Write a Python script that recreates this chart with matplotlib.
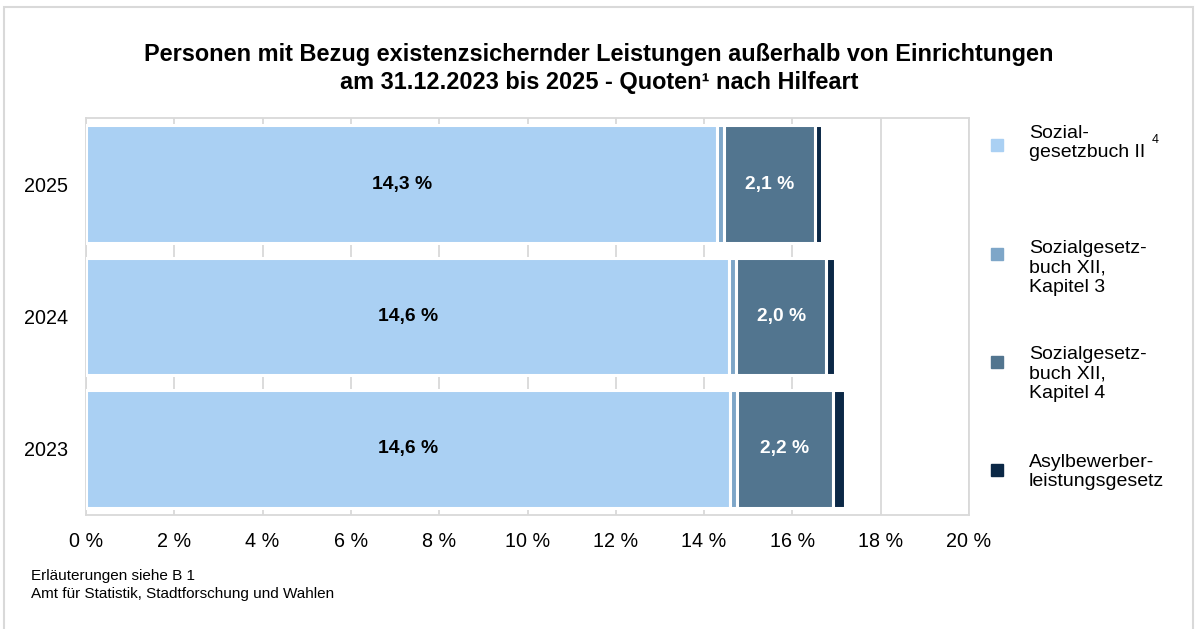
import numpy as np
import matplotlib.pyplot as plt
from matplotlib.lines import Line2D
from matplotlib.patches import Rectangle

plt.rcParams['font.family'] = ['Liberation Sans', 'DejaVu Sans']

# Daten (Quoten in %)
jahre = ['2023', '2024', '2025']
sgb2 = [14.58, 14.57, 14.30]
sgb12_k3 = [0.16, 0.16, 0.15]
sgb12_k4 = [2.18, 2.04, 2.06]
asylblg = [0.27, 0.19, 0.16]
label_sgb2 = ['14,6 %', '14,6 %', '14,3 %']
label_k4 = ['2,2 %', '2,0 %', '2,1 %']

farben = ['#AAD0F3', '#7EA6C8', '#52758F', '#0B2846']
legende = ['Sozial-\ngesetzbuch II', 'Sozialgesetz-\nbuch XII,\nKapitel 3',
           'Sozialgesetz-\nbuch XII,\nKapitel 4', 'Asylbewerber-\nleistungsgesetz']

fig = plt.figure(figsize=(11.98, 6.29), dpi=100)
ax = fig.add_axes([86 / 1198, 1 - 515 / 629, (969 - 86) / 1198, (515 - 118) / 629])

y = np.arange(len(jahre))
links = np.zeros(len(jahre))
for werte, farbe in zip([sgb2, sgb12_k3, sgb12_k4, asylblg], farben):
    ax.barh(y, werte, left=links, height=0.89, color=farbe,
            edgecolor='white', linewidth=2.2, zorder=3)
    links = links + np.array(werte)

# Beschriftungen in den Balken
for i in range(len(jahre)):
    ax.text(sgb2[i] / 2, y[i], label_sgb2[i], ha='center', va='center',
            fontsize=13.9, fontweight='bold', color='black', zorder=4)
    mitte = sgb2[i] + sgb12_k3[i] + sgb12_k4[i] / 2
    ax.text(mitte, y[i], label_k4[i], ha='center', va='center',
            fontsize=13.9, fontweight='bold', color='white', zorder=4)

ax.set_xlim(0, 20)
ax.set_ylim(-0.5, 2.5)
ax.set_xticks(np.arange(0, 21, 2))
ax.set_xticklabels([f'{v} %' for v in range(0, 21, 2)], fontsize=14.2)
ax.set_yticks(y)
ax.set_yticklabels(jahre, fontsize=14.2)
ax.tick_params(axis='x', length=0, pad=12)
ax.tick_params(axis='y', length=0, pad=13)
ax.grid(axis='x', color='#D9D9D9', linewidth=1.3, zorder=0)
for s in ax.spines.values():
    s.set_color('#D9D9D9')
    s.set_linewidth(1.3)

fig.text(0.5, 1 - 54 / 629, 'Personen mit Bezug existenzsichernder Leistungen außerhalb von Einrichtungen',
         ha='center', va='center', fontsize=16.9, fontweight='bold')
fig.text(0.5, 1 - 82 / 629, 'am 31.12.2023 bis 2025 - Quoten¹ nach Hilfeart',
         ha='center', va='center', fontsize=16.9, fontweight='bold')

# Legende
marker_y = [145, 254, 362, 470]
text_y = [143, 268, 374, 472]
for farbe, text, my, ty in zip(farben, legende, marker_y, text_y):
    fig.add_artist(Line2D([997 / 1198], [1 - my / 629], marker='s', markersize=8,
                          color=farbe, linestyle='none'))
    fig.text(1029 / 1198, 1 - ty / 629, text, ha='left', va='center',
             fontsize=14, linespacing=1.2)
fig.text(1152 / 1198, 1 - 140 / 629, '4', fontsize=9, ha='left', va='center')

fig.text(31 / 1198, 1 - 576 / 629, 'Erläuterungen siehe B 1', fontsize=11, va='center')
fig.text(31 / 1198, 1 - 594 / 629, 'Amt für Statistik, Stadtforschung und Wahlen', fontsize=11, va='center')

# Rahmen
fig.add_artist(Rectangle((4 / 1198, -0.05), 1189 / 1198, 1.05 - 7 / 629,
                         transform=fig.transFigure, fill=False,
                         edgecolor='#D9D9D9', linewidth=1.5))

fig.savefig('out.png', dpi=100)
